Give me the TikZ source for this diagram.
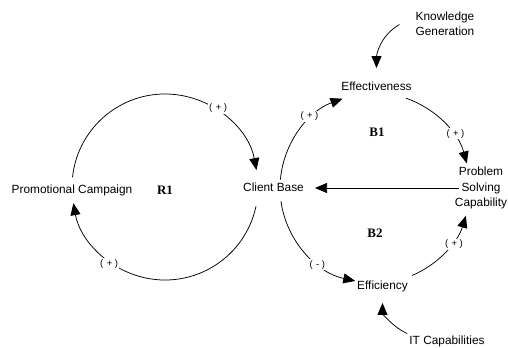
\documentclass[tikz,border=0pt]{standalone}
\usepackage{fontspec}
\setmainfont{Liberation Sans}
\newfontfamily\serifb{Liberation Serif}
\usetikzlibrary{arrows.meta,calc}
\begin{document}
\begin{tikzpicture}[x=1bp,y=1bp,
  lbl/.style={font=\fontsize{11.9}{15.5}\selectfont, inner sep=2bp, align=center},
  one/.style={lbl, text height=9bp, text depth=2.5bp},
  looplbl/.style={font=\serifb\bfseries\fontsize{13}{14}\selectfont},
  pol/.style={font=\fontsize{9.5}{10}\selectfont, fill=white, inner sep=1bp},
  arr/.style={line width=0.75bp, -{Triangle[length=12bp,width=10bp]}},
]
\useasboundingbox (0,0) rectangle (508,347);
% loop centres
\coordinate (c1) at (165,160);
\coordinate (c2) at (375,159);
% variables
\node[one] (pc) at (72,157) {Promotional Campaign};
\node[one] (cb) at (273.5,159) {Client Base};
\node[one] (eff) at (376.5,260) {Effectiveness};
\node[one] (effcy) at (382.5,61) {Efficiency};
\node[lbl] (psc) at (481,159) {Problem\\Solving\\Capability};
\node[lbl] (kg) at (445,323.5) {Knowledge\\Generation};
\node[one] (it) at (447,5.5) {IT Capabilities};
% loop labels
\node[looplbl] (r1) at (165,157) {R1};
\node[looplbl] (b1) at (377,215) {B1};
\node[looplbl] (b2) at (375,114) {B2};
% arc end points
\coordinate (a1s) at ($(c1)+(174:93)$);
\coordinate (a2s) at ($(c1)+(-12:93)$);
\coordinate (a3s) at ($(c2)+(175:95)$);
\coordinate (a4s) at ($(c2)+(71:95)$);
\coordinate (a5s) at ($(c2)+(188:95)$);
\coordinate (a6s) at ($(c2)+(-67:95)$);
% R1 loop
\draw[arr] (a1s) arc[start angle=174, end angle=10.5, radius=93];
\draw[arr] (a2s) arc[start angle=-12, end angle=-170, radius=93];
% B1 loop
\draw[arr] (a3s) arc[start angle=175, end angle=110, radius=95];
\draw[arr] (a4s) arc[start angle=71, end angle=15, radius=95];
% B2 loop
\draw[arr] (a5s) arc[start angle=188, end angle=258, radius=95];
\draw[arr] (a6s) arc[start angle=-67, end angle=-17, radius=95];
% straight link
\draw[arr, shorten <=-6bp, shorten >=9bp] (psc.west) -- (cb.east);
% exogenous links
\coordinate (kgs) at ($(kg.west)+(-14,-1)$);
\draw[arr, shorten >=11bp] (kgs) to[out=210, in=90] (eff.north);
\draw[arr, shorten >=9bp] (it.north west) to[out=155, in=-90] (effcy.south);
% polarity labels
\node[pol] (p1) at ($(c1)+(56:95)$) {(\hspace{3.5bp}+\hspace{2.5bp})};
\node[pol] (p2) at ($(c1)+(234:95)$) {(\hspace{3.5bp}+\hspace{2.5bp})};
\node[pol] (p3) at ($(c2)+(132.5:97)$) {(\hspace{3.5bp}+\hspace{2.5bp})};
\node[pol] (p4) at ($(c2)+(34:97)$) {(\hspace{3.5bp}+\hspace{2.5bp})};
\node[pol] (p5) at ($(c2)+(233:96)$) {(\hspace{3.5bp}-\hspace{2.5bp})};
\node[pol] (p6) at ($(c2)+(-35.5:97)$) {(\hspace{3.5bp}+\hspace{2.5bp})};
\end{tikzpicture}
\end{document}
